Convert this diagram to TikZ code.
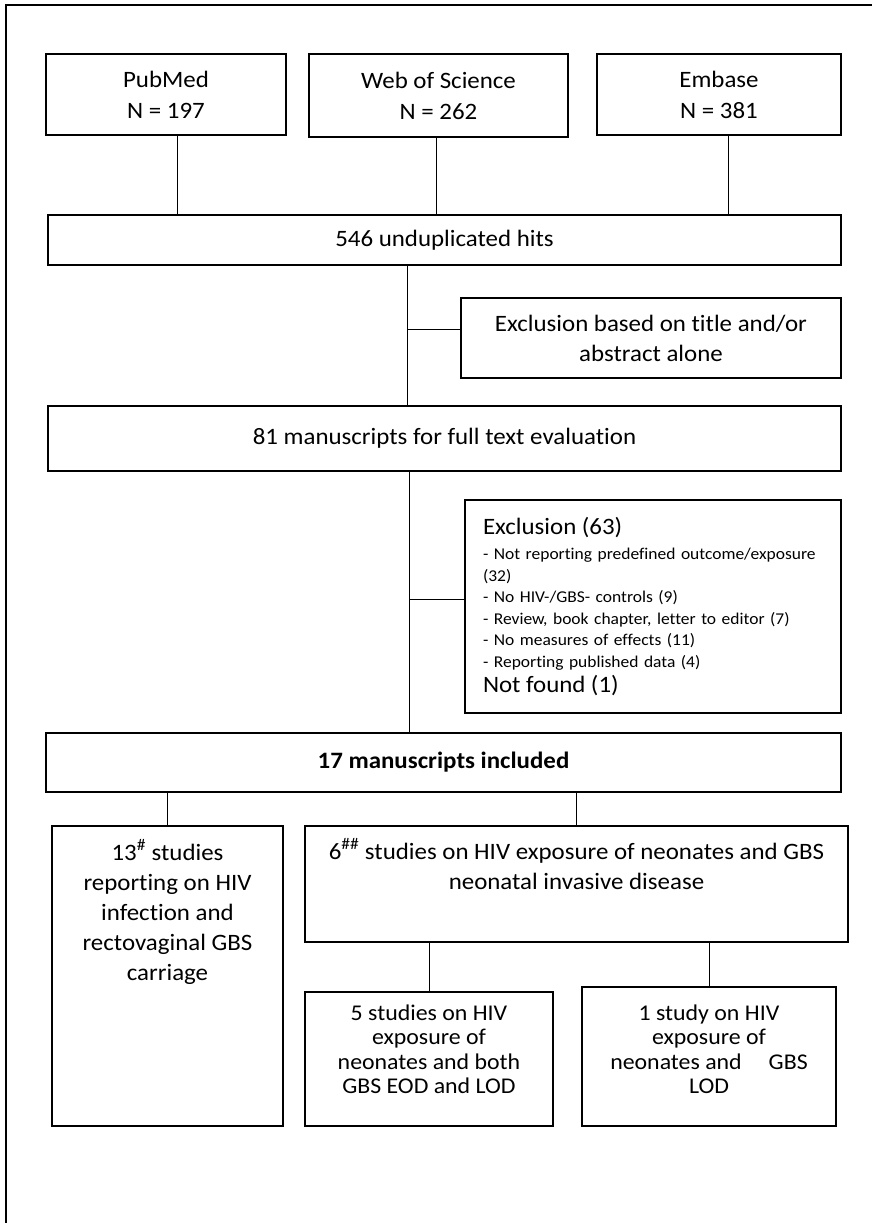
\documentclass[tikz,border=0pt]{standalone}
\usepackage{fontspec}
\setmainfont{Carlito}[FakeStretch=1.06, Ligatures=NoCommon]
\newcommand{\boxtext}[4]{\parbox[c][#1][t]{#2}{\centering\vspace*{#3}\strut #4\par}}
\begin{document}
\begin{tikzpicture}[x=1pt, y=-1pt,
    font=\fontsize{23.5}{31}\selectfont,
    box/.style={draw, line width=1.3pt, align=center, inner sep=0pt},
    link/.style={line width=1pt}]
  \useasboundingbox (0,0) rectangle (872,1223);
  % outer frame
  \draw[line width=1.3pt] (6,1223) -- (6,5) -- (872,5);
  % databases
  \node[box, minimum width=240pt, minimum height=81pt] (pubmed) at (166,94.5) {PubMed\\N = 197};
  \node[box, minimum width=259pt, minimum height=83pt] (wos) at (438.5,95.5) {Web of Science\\N = 262};
  \node[box, minimum width=244pt, minimum height=81pt] (embase) at (719,94.5) {Embase\\N = 381};
  \node[box, minimum width=793pt, minimum height=50pt] (hits) at (444.5,240) {546 unduplicated hits};
  % screening
  \node[box, minimum width=380pt, minimum height=80pt, font=\fontsize{23.5}{30}\selectfont] (excl1) at (651,338) {Exclusion based on title and/or\\abstract alone};
  \node[box, minimum width=793pt, minimum height=65pt] (full) at (444.5,438.5) {81 manuscripts for full text evaluation};
  \node[box, align=left, text width=340pt, minimum width=376pt, minimum height=213pt,
        font=\fontsize{16.5}{21.5}\selectfont] (excl2) at (653,606.5)
    {{\fontsize{23.5}{28}\selectfont Exclusion (63)}\\[4pt]
     - Not reporting predefined outcome/exposure\\
     (32)\\
     - No HIV-/GBS- controls (9)\\
     - Review, book chapter, letter to editor (7)\\
     - No measures of effects (11)\\
     - Reporting published data (4)\\[4pt]
     {\fontsize{23.5}{28}\selectfont Not found (1)}};
  \node[box, minimum width=795pt, minimum height=59pt, font=\fontsize{23.5}{31}\selectfont\bfseries] (incl) at (443.5,762.5) {17 manuscripts included};
  % included studies
  \node[box, font=\fontsize{23.5}{30}\selectfont] (carriage) at (167.5,976)
    {\boxtext{300pt}{231pt}{13pt}{13\textsuperscript{\#} studies\\reporting on HIV\\infection and\\rectovaginal GBS\\carriage}};
  \node[box, font=\fontsize{23.5}{30}\selectfont] (neonatal) at (576.5,884)
    {\boxtext{116pt}{543pt}{12pt}{6\textsuperscript{\#\#} studies on HIV exposure of neonates and GBS\\neonatal invasive disease}};
  \node[box, font=\fontsize{22.5}{24.5}\selectfont] (both) at (429,1059)
    {\boxtext{134pt}{248pt}{11pt}{5 studies on HIV\\exposure of\\neonates and both\\GBS EOD and LOD}};
  \node[box, font=\fontsize{22.5}{24.5}\selectfont] (lod) at (709,1056.5)
    {\boxtext{139pt}{254pt}{16pt}{1 study on HIV\\exposure of\\neonates and\hspace{1.2em}GBS\\LOD}};
  % connectors
  \foreach \n/\dx in {pubmed/11,wos/-2,embase/9}
    \draw[link] ([xshift=\dx pt]\n.south) -- ([xshift=\dx pt]\n.south |- hits.north);
  \coordinate (j1) at (407,329);
  \draw[link] (hits.south -| j1) -- (full.north -| j1);
  \draw[link] (j1) -- (j1 -| excl1.west);
  \coordinate (j2) at (409,599);
  \draw[link] (full.south -| j2) -- (incl.north -| j2);
  \draw[link] (j2) -- (j2 -| excl2.west);
  \draw[link] (carriage.north) -- (carriage.north |- incl.south);
  \draw[link] (neonatal.north) -- (neonatal.north |- incl.south);
  \draw[link] (both.north) -- (both.north |- neonatal.south);
  \draw[link] (lod.north) -- (lod.north |- neonatal.south);
\end{tikzpicture}
\end{document}
